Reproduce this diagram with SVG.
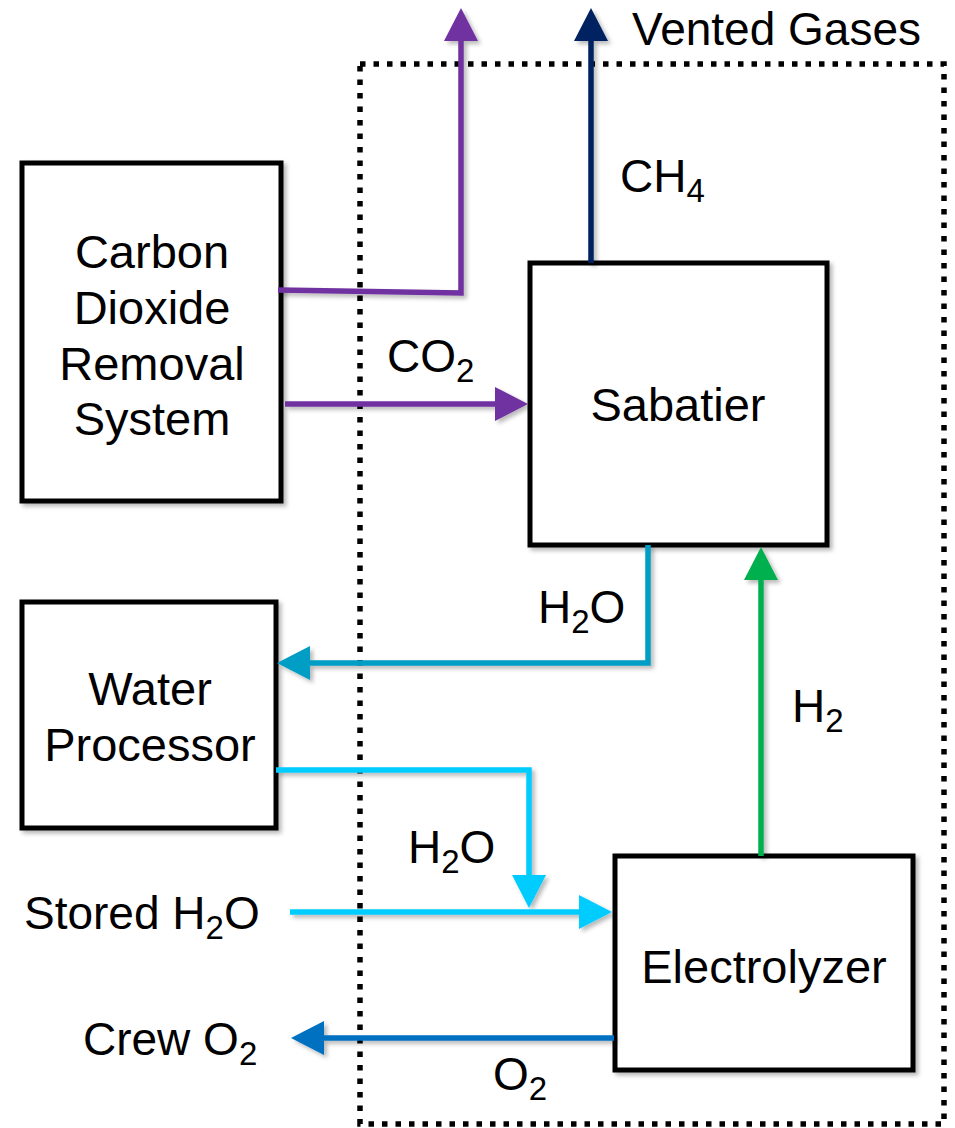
<svg xmlns="http://www.w3.org/2000/svg" width="955" height="1128" viewBox="0 0 955 1128">
<style>
  text { font-family: "Liberation Sans", Arial, sans-serif; font-size: 46px; fill: #000; }
  .nl { font-size: 47px; }
  .box { fill: #fff; stroke: #000; stroke-width: 5; }
  .con { fill: none; stroke-width: 5.5; stroke-linejoin: miter; }
  .sub { font-size: 33px; }
</style>
<defs>
  <filter id="sh" x="-20%" y="-20%" width="140%" height="140%">
    <feDropShadow dx="3" dy="3" stdDeviation="2" flood-color="#000" flood-opacity="0.28"/>
  </filter>
  <marker id="aPurple" markerUnits="userSpaceOnUse" markerWidth="34" markerHeight="34" refX="1" refY="17" orient="auto" viewBox="0 0 34 34">
    <path d="M0,0 L33,17 L0,34 z" fill="#7030A0"/>
  </marker>
  <marker id="aNavy" markerUnits="userSpaceOnUse" markerWidth="34" markerHeight="34" refX="1" refY="17" orient="auto" viewBox="0 0 34 34">
    <path d="M0,0 L33,17 L0,34 z" fill="#002060"/>
  </marker>
  <marker id="aTeal" markerUnits="userSpaceOnUse" markerWidth="34" markerHeight="34" refX="1" refY="17" orient="auto" viewBox="0 0 34 34">
    <path d="M0,0 L33,17 L0,34 z" fill="#009DC4"/>
  </marker>
  <marker id="aCyan" markerUnits="userSpaceOnUse" markerWidth="34" markerHeight="34" refX="1" refY="17" orient="auto" viewBox="0 0 34 34">
    <path d="M0,0 L33,17 L0,34 z" fill="#00CCFF"/>
  </marker>
  <marker id="aBlue" markerUnits="userSpaceOnUse" markerWidth="34" markerHeight="34" refX="1" refY="17" orient="auto" viewBox="0 0 34 34">
    <path d="M0,0 L33,17 L0,34 z" fill="#0070C0"/>
  </marker>
  <marker id="aGreen" markerUnits="userSpaceOnUse" markerWidth="34" markerHeight="34" refX="1" refY="17" orient="auto" viewBox="0 0 34 34">
    <path d="M0,0 L33,17 L0,34 z" fill="#00B050"/>
  </marker>
</defs>
<rect width="955" height="1128" fill="#fff"/>

<g id="vent-boundary">
  <rect x="360" y="64" width="584" height="1060" fill="none" stroke="#000" stroke-width="5.5" stroke-dasharray="5.5 8"/>
  <text x="632" y="45">Vented Gases</text>
</g>

<g id="node-co2-removal">
  <rect class="box" x="22" y="163" width="259" height="338" filter="url(#sh)"/>
  <text class="nl" x="152" y="268" text-anchor="middle">Carbon</text>
  <text class="nl" x="152" y="324" text-anchor="middle">Dioxide</text>
  <text class="nl" x="152" y="380" text-anchor="middle">Removal</text>
  <text class="nl" x="152" y="435" text-anchor="middle">System</text>
</g>

<g id="node-water-processor">
  <rect class="box" x="22" y="602" width="254" height="226" filter="url(#sh)"/>
  <text class="nl" x="150" y="705" text-anchor="middle">Water</text>
  <text class="nl" x="150" y="761" text-anchor="middle">Processor</text>
</g>

<g id="node-sabatier">
  <rect class="box" x="530" y="263" width="297" height="282" filter="url(#sh)"/>
  <text class="nl" x="678" y="421" text-anchor="middle">Sabatier</text>
</g>

<g id="node-electrolyzer">
  <rect class="box" x="615" y="856" width="298" height="214" filter="url(#sh)"/>
  <text class="nl" x="764" y="983" text-anchor="middle">Electrolyzer</text>
</g>

<g id="connectors" filter="url(#sh)">
  <path class="con" stroke="#7030A0" d="M278,290 L461,293 L461,40" marker-end="url(#aPurple)"/>
  <path class="con" stroke="#7030A0" d="M285,404 L496,404" marker-end="url(#aPurple)"/>
  <path class="con" stroke="#002060" d="M591,263 L591,40" marker-end="url(#aNavy)"/>
  <path class="con" stroke="#009DC4" d="M648,545 L648,663 L309,663" marker-end="url(#aTeal)"/>
  <path class="con" stroke="#00CCFF" d="M276,770 L529,770 L529,876" marker-end="url(#aCyan)"/>
  <path class="con" stroke="#00CCFF" d="M290,912 L580,912" marker-end="url(#aCyan)"/>
  <path class="con" stroke="#0070C0" d="M614,1038 L323,1038" marker-end="url(#aBlue)"/>
  <path class="con" stroke="#00B050" d="M761,856 L761,579" marker-end="url(#aGreen)"/>
</g>

<g id="labels">
  <text x="620" y="192">CH<tspan class="sub" dy="10">4</tspan></text>
  <text x="387" y="372">CO<tspan class="sub" dy="10">2</tspan></text>
  <text x="538" y="623">H<tspan class="sub" dy="10">2</tspan><tspan dy="-10">O</tspan></text>
  <text x="792" y="722">H<tspan class="sub" dy="10">2</tspan></text>
  <text x="408" y="863">H<tspan class="sub" dy="10">2</tspan><tspan dy="-10">O</tspan></text>
  <text x="24" y="929">Stored H<tspan class="sub" dy="10">2</tspan><tspan dy="-10">O</tspan></text>
  <text x="83" y="1055">Crew O<tspan class="sub" dy="10">2</tspan></text>
  <text x="493" y="1090">O<tspan class="sub" dy="10">2</tspan></text>
</g>
</svg>
